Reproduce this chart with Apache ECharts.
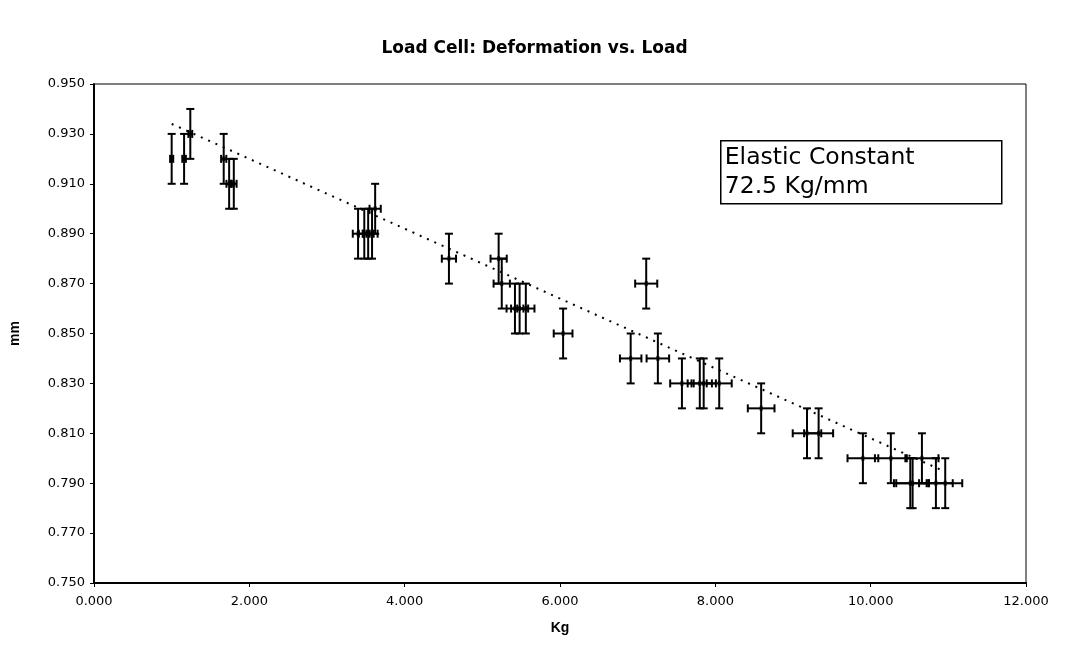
<!DOCTYPE html>
<html>
<head>
<meta charset="utf-8">
<script src="https://cdn.jsdelivr.net/npm/echarts@6/dist/echarts.min.js"></script>
<style>
html,body{margin:0;padding:0;background:#fff;}
#chart{width:1069px;height:648px;}
</style>
</head>
<body>
<div id="chart"></div>
<script>
// ---- data ----
var loadKg = [1.00,1.16,1.24,1.67,1.74,1.80,3.40,3.48,3.53,3.58,3.62,4.57,5.21,5.25,5.42,5.48,5.56,6.04,6.91,7.11,7.26,7.57,7.80,7.85,8.05,8.59,9.18,9.33,9.90,10.26,10.66,10.51,10.54,10.84,10.96];
var deformMm = [0.920,0.920,0.930,0.920,0.910,0.910,0.890,0.890,0.890,0.890,0.900,0.880,0.880,0.870,0.860,0.860,0.860,0.850,0.840,0.870,0.840,0.830,0.830,0.830,0.830,0.820,0.810,0.810,0.800,0.800,0.800,0.790,0.790,0.790,0.790];
var yErrorMm = 0.010;          // fixed y error bar
var xErrorPct = 0.02;          // percentage x error bar
var trendSlope = -0.0140;      // linear trendline as drawn in the reference
var trendIntercept = 0.948;
var titleText = 'Load Cell: Deformation vs. Load';
var annotation = ['Elastic Constant', '72.5 Kg/mm'];

var xmin = Math.min.apply(null, loadKg), xmax = Math.max.apply(null, loadKg);
var trend = [[xmin, trendIntercept + trendSlope*xmin],[xmax, trendIntercept + trendSlope*xmax]];
var pts = loadKg.map(function(x,i){ return [x, deformMm[i]]; });

var FONT = '"DejaVu Sans", "Liberation Sans", Arial, sans-serif';
var AFONT = '"Liberation Sans", Arial, sans-serif';

var chart = echarts.init(document.getElementById('chart'), null, {renderer:'canvas'});
chart.setOption({
  animation:false,
  backgroundColor:'#fff',
  title:{ text:titleText, left:'center', top:35,
    textStyle:{ fontFamily:FONT, fontSize:17, fontWeight:'bold', color:'#000' } },
  grid:{ left:94, right:43, top:84, bottom:65, show:true, borderColor:'#000', borderWidth:1, backgroundColor:'transparent' },
  xAxis:{ type:'value', min:0, max:12, interval:2, name:'Kg', nameLocation:'middle', nameGap:38,
    nameTextStyle:{ fontFamily:AFONT, fontSize:14, fontWeight:'bold', color:'#000' },
    axisLine:{ show:true, lineStyle:{ color:'#000', width:2 } },
    axisTick:{ show:true, inside:false, length:4, lineStyle:{ color:'#000' } },
    axisLabel:{ fontFamily:FONT, fontSize:13, color:'#000', margin:12, formatter:function(v){ return v.toFixed(3); } },
    splitLine:{ show:false } },
  yAxis:{ type:'value', min:0.75, max:0.95, interval:0.02, name:'mm', nameLocation:'middle', nameGap:72, nameRotate:90,
    nameTextStyle:{ fontFamily:AFONT, fontSize:14, fontWeight:'bold', color:'#000' },
    axisLine:{ show:true, lineStyle:{ color:'#000', width:2 } },
    axisTick:{ show:true, inside:false, length:4, lineStyle:{ color:'#000' } },
    axisLabel:{ fontFamily:FONT, fontSize:13, color:'#000', margin:9, formatter:function(v){ return v.toFixed(3); } },
    splitLine:{ show:false } },
  series:[
    { type:'line', data:trend, symbol:'none', z:1,
      lineStyle:{ color:'#000', width:2, type:[2,6] } },
    { type:'custom', z:3, data:pts,
      renderItem:function(params, api){
        var x = api.value(0), y = api.value(1);
        var c = api.coord([x,y]);
        var top = api.coord([x, y+yErrorMm]), bot = api.coord([x, y-yErrorMm]);
        var dx = x*xErrorPct;
        var lft = api.coord([x-dx, y]), rgt = api.coord([x+dx, y]);
        var cap = 4;
        var st = { stroke:'#000', lineWidth:2 };
        return { type:'group', children:[
          { type:'line', shape:{ x1:c[0], y1:top[1], x2:c[0], y2:bot[1] }, style:st },
          { type:'line', shape:{ x1:c[0]-cap, y1:top[1], x2:c[0]+cap, y2:top[1] }, style:st },
          { type:'line', shape:{ x1:c[0]-cap, y1:bot[1], x2:c[0]+cap, y2:bot[1] }, style:st },
          { type:'line', shape:{ x1:lft[0], y1:c[1], x2:rgt[0], y2:c[1] }, style:st },
          { type:'line', shape:{ x1:lft[0], y1:c[1]-cap, x2:lft[0], y2:c[1]+cap }, style:st },
          { type:'line', shape:{ x1:rgt[0], y1:c[1]-cap, x2:rgt[0], y2:c[1]+cap }, style:st }
        ]};
      } },
    { type:'scatter', data:pts, symbol:'rect', symbolSize:[3,5], z:4, itemStyle:{ color:'#000' } }
  ],
  graphic:[
    { type:'group', left:720, top:140, children:[
      { type:'rect', shape:{ x:0, y:0, width:281, height:63 }, style:{ fill:'#fff', stroke:'#000', lineWidth:1.5 } },
      { type:'text', left:4, top:3, style:{ text:annotation.join('\n'), fontFamily:FONT, fontSize:23.5, lineHeight:29, fill:'#000' } }
    ]}
  ]
});
</script>
</body>
</html>
